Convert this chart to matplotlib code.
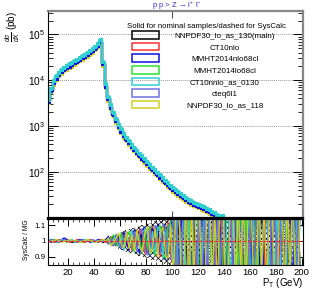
import numpy as np
import matplotlib
matplotlib.use('Agg')
import matplotlib.pyplot as plt
from matplotlib.patches import Rectangle
from matplotlib.ticker import FixedLocator, MultipleLocator, LogLocator, NullFormatter, LogFormatterMathtext

plt.rcParams['font.family'] = ['Liberation Sans', 'DejaVu Sans']
plt.rcParams['hatch.linewidth'] = 0.5
plt.rcParams['mathtext.fontset'] = 'custom'
plt.rcParams['mathtext.rm'] = 'Liberation Sans'
plt.rcParams['mathtext.it'] = 'Liberation Sans:italic'

# ---------------- data ----------------
bin_edges = np.arange(4, 202, 2)          # 2 GeV bins, 4..200
bin_centers = bin_edges[:-1] + 1

pdf_names = ["NNPDF30_lo_as_130(main)", "CT10nlo", "MMHT2014nlo68cl", "MMHT2014lo68cl",
             "CT10nnlo_as_0130", "cteq6l1", "NNPDF30_lo_as_118"]
pdf_colors = ["#000000", "#ff3030", "#1010e0", "#30e030", "#30d0d0", "#7070e0", "#d0d020"]
pdf_norm = [1.00, 1.00, 0.97, 1.04, 1.08, 0.98, 0.90]
draw_order = [0, 1, 3, 6, 5, 2, 4]

xsec_main = [3500, 6000, 8800, 11200, 13500, 15500, 17500, 19000, 20500, 22000,
             24000, 26000, 28500, 31000, 33500, 36500, 40000, 44000, 50000, 58000,
             69000, 23000, 7500, 4000, 2600, 1800, 1300, 980, 780, 620,
             510, 430, 360, 310, 265, 230, 200, 175, 150, 130,
             113, 100, 88, 77, 67, 59, 52, 46, 41, 37,
             33, 30, 27, 24.5, 22.5, 21, 19.5, 18.5, 17.5, 16.5,
             15.5, 14.5, 13.5, 12.5, 11.5, 10.7, 10.2, 10.0, 0, 0,
             0, 0, 0, 0, 0, 0, 0, 0, 0, 0,
             0, 0, 0, 0, 0, 0, 0, 0, 0, 0,
             0, 0, 0, 0, 0, 0, 0, 0]

# statistical band half width (percent)
band_pct = [0.5] * 21 + [0.8, 1.2, 1.8, 2.5, 3.2, 4.0, 5.0, 6.0, 6.5, 7.0, 7.5, 8.0, 8.5, 9.0,
                         9.5, 10, 10.5, 11, 11.5, 12, 12.5, 13, 13.5, 14, 14.5, 15, 16] + [20] * 50

# SysCalc / MG ratio deviations (percent)
ratio_black = [0, 1, 0, -1, 0, 0, 1, 0, 0, -1, 0, 0, 0, 1, 0, 0, 0, 0, 0, 0, 0, -1, 1,
               2, -2, 3, -3, 1, 4, -4, 5, -2, 6, -6, 3, 7, -5, 8, -8, 4, 9, -7, 10, -9, 6, 11, -12, 8,
               18, -20, 15, -25, 22, -18, 30, -22, 12, -28, 25, -30, 20, -15, 28, -26, 35, -20, 18, -32,
               26, -24, 30, -35, 22, -18, 34, -28, 20, -30, 25, -22, 36, -30, 28, -20, 32, -26, 24, -34,
               30, -28, 22, -36, 26, -24, 33, -30, 27, -25]
ratio_red = [1, 0, -1, 0, 1, 0, 0, 1, -1, 0, 0, 1, 0, 0, -1, 0, 1, 0, 0, 0, 1, 0, -1,
             -1, 3, -2, 1, -4, 3, 5, -3, 2, -6, 4, -5, 7, 2, -8, 6, -3, 9, -6, 4, -10, 8, -7, 12, -9,
             -16, 22, -28, 12, 30, -20, -26, 18, 35, -30, 14, -22, 28, -34, 20, 26, -18, -32, 24, -16,
             30, -28, 22, -36, 18, 28, -24, -30, 32, -20, 26, -34, 16, 30, -26, -22, 34, -28, 20, -30,
             36, -18, 24, -32, 28, -26, 30, -24, 22, -30]
ratio_blue = [0, -1, 1, 0, 0, 1, 2, 1, 0, 0, -1, 0, 1, 0, 0, 0, -1, 0, 0, 1, 0, 0, 1,
              3, -1, -3, 4, 2, -5, 6, -2, -6, 5, 7, -4, -8, 6, 9, -3, -10, 8, -6, 11, -8, 10, -12, 7, 13,
              -22, 26, -18, 30, -34, 20, 24, -30, 28, -16, -26, 32, -22, 18, 34, -28, -20, 26, -36, 30,
              22, -24, 28, -32, 16, -28, 30, 24, -34, 20, -22, 36, -26, 18, 28, -30, -24, 34, -20, 26,
              -32, 22, 30, -28, -18, 32, -34, 24, -26, 28]
ratio_green = [0, 0, 1, -1, 0, 0, 0, -1, 1, 0, 0, 0, 0, -1, 0, 1, 0, 0, 0, -1, 0, 1, 0,
               -2, 2, 4, -3, -2, 5, -5, 3, 6, -4, -7, 5, 3, -8, 7, -6, 9, -5, -9, 7, 10, -8, -11, 9, 12,
               20, -24, 30, -18, -28, 26, 22, -32, 18, 28, -26, -20, 34, -24, 26, -30, 16, 32, -28, -22,
               30, -18, -34, 26, 24, -20, 30, -36, 22, -26, 32, 18, -30, 28, -24, 20, 34, -32, -18, 26,
               -28, 30, 22, -34, 18, -24, 32, -20, 28, -26]
ratio_cyan = [1, 0, 0, -1, 0, 1, 0, 0, 0, 1, -1, 0, 0, 0, 1, 0, 0, -1, 0, 0, 0, 0, 0,
              1, -3, 2, 3, -4, 2, -6, 4, -3, 7, -5, 6, -4, -7, 8, 5, -9, 6, -8, 9, 7, -11, 10, -9, 11,
              -18, 28, -22, -16, 26, -32, 20, 30, -24, -20, 32, -18, 26, -28, 22, -34, 30, 18, -26, 28,
              -20, 34, -30, 16, -22, 28, -26, 32, -18, 24, -34, 20, 28, -22, -30, 26, 18, -28, 32, -24,
              20, -30, 26, 34, -22, -28, 18, 30, -32, 22]
ratio_slate = [0, 1, 0, 0, -1, 0, 1, 0, 0, 0, 0, -1, 0, 1, 0, 0, 0, 1, 0, -1, 0, 0, 0,
               -2, 1, -3, 4, -2, -5, 3, 6, -4, -3, 6, -7, 5, 8, -6, -9, 7, -5, 10, -7, -8, 11, 9, -10, -12,
               24, -18, 26, -30, 16, 22, -28, -24, 30, -20, 28, -34, 18, -22, 30, 24, -28, 20, -32, 26,
               -18, -26, 34, -30, 22, 18, -24, 30, -28, -20, 32, -26, 22, 30, -34, 18, -22, 28, -30, 24,
               -20, 32, -26, -18, 30, -22, 26, -34, 20, -28]
ratio_yellow = [-1, 0, 0, 1, 0, -1, 0, 0, 1, 0, 0, 0, -1, 0, 0, 1, 0, 0, -1, 0, 0, 1, 0,
                2, -3, -1, 2, 5, -3, -4, 6, -5, 4, -6, 7, -3, -7, 5, 9, -8, -4, 8, -10, 6, 9, -9, -11, 10,
                -26, 20, 30, -22, -18, 28, -30, 24, -26, 32, 20, -28, -34, 22, 28, -24, 18, -30, 26, 32,
                -22, -28, 20, 30, -34, 24, -18, 26, -32, 28, 22, -26, -30, 34, -20, 24, -28, 18, 30, -24,
                -32, 26, 20, -30, 28, -22, 34, -18, -26, 30]
ratio_series = [ratio_black, ratio_red, ratio_blue, ratio_green, ratio_cyan, ratio_slate, ratio_yellow]

x_ticks = [20, 40, 60, 80, 100, 120, 140, 160, 180, 200]
y_ticks = [1e2, 1e3, 1e4, 1e5]
ratio_ticks = [0.9, 1.0, 1.1]

# ---------------- figure ----------------
W, H = 318, 291
fig = plt.figure(figsize=(W / 100, H / 100), dpi=100)

def fx(px):
    return px / W

def fy(py):
    return 1 - py / H

ax = fig.add_axes([fx(47.5), fy(217.5), fx(303) - fx(47.5), fy(10.7) - fy(217.5)])
axr = fig.add_axes([fx(47.5), fy(265), fx(303) - fx(47.5), fy(218.5) - fy(265)])

xlo, xhi = 4, 201
ymin = 10

# ---- top panel ----
main = np.array(xsec_main, dtype=float)
n = len(main)
xc = bin_centers[:n]
for k in draw_order:
    col, norm = pdf_colors[k], pdf_norm[k]
    vals = main * norm
    vals = np.where(vals > 0, vals, ymin * 0.5)
    ax.step(xc, vals, where='mid', color=col, lw=1.6, solid_capstyle='butt')
    ax.plot(xc, vals, ls='none', marker='s', ms=2.2, mew=0, color=col)

ax.set_yscale('log')
ax.set_xlim(xlo, xhi)
ax.set_ylim(ymin, 3.3e5)
ax.yaxis.set_major_locator(FixedLocator(y_ticks))
ax.yaxis.set_major_formatter(LogFormatterMathtext())
ax.yaxis.set_minor_locator(LogLocator(base=10, subs=np.arange(2, 10), numticks=20))
ax.yaxis.set_minor_formatter(NullFormatter())
ax.xaxis.set_major_locator(FixedLocator([100]))
ax.xaxis.set_minor_locator(FixedLocator([]))
ax.tick_params(axis='x', which='major', direction='in', top=True, bottom=True,
               labelbottom=False, length=5, width=0.8, color='#555555')
ax.tick_params(axis='y', which='major', direction='in', left=True, right=True,
               length=7, width=0.7, labelsize=7.3, pad=2)
ax.tick_params(axis='y', which='minor', direction='in', left=True, right=True,
               length=3.5, width=0.6)
for yv in y_ticks:
    ax.axhline(yv, color='#999999', ls=(0, (1, 1)), lw=0.7, zorder=0)
ax.spines['left'].set_linewidth(0.8)
ax.spines['bottom'].set_linewidth(1.6)
ax.spines['top'].set_color('#888888')
ax.spines['top'].set_linewidth(1.6)
ax.spines['right'].set_color('#888888')
ax.spines['right'].set_linewidth(1.6)

# ---- ratio panel ----
band = np.array(band_pct, dtype=float) / 100.0
nb = len(band)
axr.fill_between(bin_centers[:nb], 1 - band, 1 + band, step='mid', facecolor='white',
                 edgecolor='black', hatch='xxxxxx', lw=0, zorder=1)
for col, rs in zip(pdf_colors, ratio_series):
    r = 1 + np.array(rs, dtype=float) / 100.0
    axr.plot(bin_centers[:len(r)], r, color=col, lw=0.9, zorder=2)
axr.axhline(1.0, color='#ff2020', ls=(0, (3, 2)), lw=0.8, zorder=3)

axr.set_xlim(xlo, xhi)
axr.set_ylim(0.846, 1.144)
axr.xaxis.set_major_locator(FixedLocator(x_ticks))
axr.xaxis.set_minor_locator(MultipleLocator(4))
axr.yaxis.set_major_locator(FixedLocator(ratio_ticks))
axr.set_yticklabels(['0.9', '1', '1.1'])
axr.tick_params(axis='x', which='major', direction='in', top=True, bottom=True,
                length=5, width=0.7, labelsize=6.8, pad=2)
axr.tick_params(axis='x', which='minor', direction='in', top=True, bottom=True,
                length=2.5, width=0.5)
axr.tick_params(axis='y', which='major', direction='in', left=True, right=True,
                length=5, width=0.7, labelsize=5.8, pad=1.5)
for s in ['left', 'bottom', 'right']:
    axr.spines[s].set_linewidth(0.8)
axr.spines['top'].set_linewidth(1.6)

# ---- texts ----
fig.text(fx(13), fy(11), r'$\frac{d\sigma}{dX}$ (pb)', rotation=90, ha='center', va='top', fontsize=7)
fig.text(fx(27), fy(240), 'SysCalc / MG', rotation=90, ha='center', va='center', fontsize=4.8)
fig.text(fx(303), fy(283), r'P$_{\mathregular{T}}$ (GeV)', ha='right', va='center', fontsize=7)
fig.text(fx(176.5), fy(6), r'p p > Z → l$^{+}$ l$^{-}$', ha='center', va='center',
         fontsize=5.5, color='#3434c0')

# ---- legend ----
fig.text(fx(206.5), fy(26), 'Solid for nominal samples/dashed for SysCalc', ha='center',
         va='center', fontsize=5.6)
for i, (name, col) in enumerate(zip(pdf_names, pdf_colors)):
    yc = 35 + 11.6 * i
    fig.add_artist(Rectangle((fx(131.7), fy(yc + 3.8)), fx(159.3) - fx(131.7), fy(yc - 3.8) - fy(yc + 3.8),
                             transform=fig.transFigure, fill=False, edgecolor=col, lw=1.1))
    fig.text(fx(225), fy(yc + 1.5), name, ha='center', va='center', fontsize=5.8)

fig.savefig('out.png', dpi=100)
